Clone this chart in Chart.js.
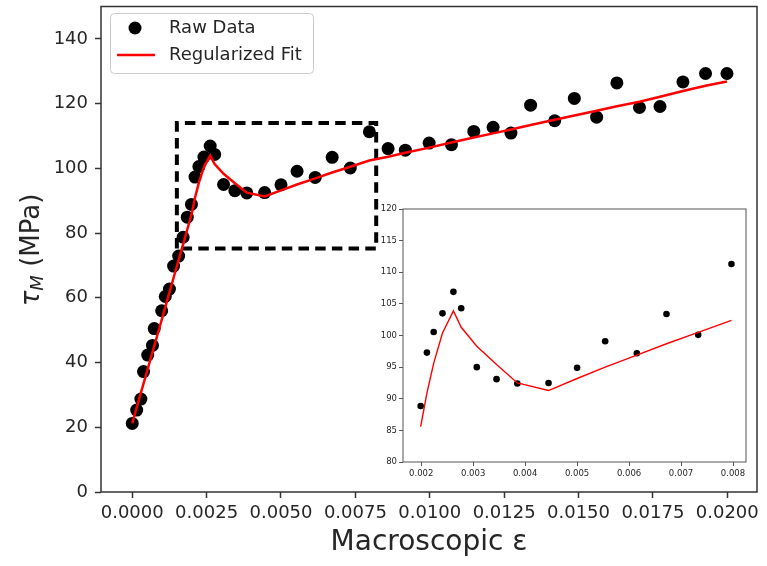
<!DOCTYPE html>
<html>
<head>
<meta charset="utf-8">
<title>Regularized fit</title>
<script src="https://cdn.jsdelivr.net/npm/chart.js@4.4.1/dist/chart.umd.min.js"></script>
<style>
  html, body { margin: 0; padding: 0; background: #fff; }
  #wrap { position: relative; width: 767px; height: 566px; overflow: hidden; }
  #main { position: absolute; left: 0; top: 0; }
  #inset { position: absolute; left: 360px; top: 195px; }
</style>
</head>
<body>
<div id="wrap">
  <canvas id="main" width="767" height="566"></canvas>
  <canvas id="inset" width="400" height="300"></canvas>
</div>
<script>
// Macroscopic strain of each sample.
const strain = [
  0, 0.00015, 0.00029, 0.00038, 0.00052, 0.00068, 0.00074, 0.00099, 0.00111, 0.00125, 0.00139, 0.00156, 0.00171, 0.00185,
  0.00199, 0.00211, 0.00224, 0.00241, 0.00262, 0.00277, 0.00307, 0.00345, 0.00385, 0.00445, 0.00500, 0.00554, 0.00615, 0.00672, 0.00733, 0.00797,
  0.00860, 0.00918, 0.00998, 0.01073, 0.01148, 0.01213, 0.01273, 0.01339, 0.01420, 0.01486, 0.01561, 0.01629, 0.01705, 0.01774, 0.01851, 0.01927, 0.01999
];
// Measured stress (MPa).
const stressRaw = [
  21.2, 25.3, 28.7, 37.2, 42.3, 45.3, 50.5, 56.0, 60.4, 62.7, 69.8, 72.9, 78.7, 84.9,
  88.85, 97.3, 100.55, 103.5, 106.9, 104.3, 95.0, 93.1, 92.4, 92.5, 94.9, 99.1, 97.2, 103.4, 100.1, 111.3,
  106.1, 105.6, 107.8, 107.3, 111.4, 112.7, 110.9, 119.5, 114.7, 121.6, 115.8, 126.4, 118.8, 119.1, 126.7, 129.3, 129.3
];
// Regularized fit evaluated at the same strains (MPa).
const stressFit = [
  21.2, 26.1, 30.6, 33.5, 38.0, 43.2, 45.1, 53.2, 57.1, 61.7, 66.2, 71.7, 76.5, 81.1,
  85.6, 90.9, 95.6, 100.4, 103.9, 101.3, 98.3, 95.4, 92.5, 91.3, 93.2, 95.0, 96.9, 98.7, 100.5, 102.4,
  103.6, 104.8, 106.4, 108.0, 109.5, 110.8, 112.0, 113.4, 115.0, 116.3, 117.8, 119.2, 120.6, 122.1, 123.9, 125.5, 126.8
];

// Zoom window shown in the inset (strain / stress corners of the dashed box).
const boxStrain = [0.0015, 0.0015, 0.0082, 0.0082, 0.0015];
const boxStress = [75.2, 114.0, 114.0, 75.2, 75.2];
// Strain range of the samples repeated in the inset.
const insetRange = [0.0019, 0.0080];

// Tick values.
const mainXTicks = [0, 0.0025, 0.005, 0.0075, 0.01, 0.0125, 0.015, 0.0175, 0.02];
const mainYTicks = [0, 20, 40, 60, 80, 100, 120, 140];
const insetXTicks = [0.002, 0.003, 0.004, 0.005, 0.006, 0.007, 0.008];
const insetYTicks = [80, 85, 90, 95, 100, 105, 110, 115, 120];

const FONT = '"DejaVu Sans", sans-serif';
const TEXT = '#262626';
const SPINE = '#333333';

const rawPoints = strain.map((x, i) => ({x, y: stressRaw[i]}));
const fitPoints = strain.map((x, i) => ({x, y: stressFit[i]}));
const boxPoints = boxStrain.map((x, i) => ({x, y: boxStress[i]}));
const inRange = p => p.x >= insetRange[0] && p.x <= insetRange[1];

// White plot area and the four spines round it.
const framePlugin = {
  id: 'frame',
  beforeDatasetsDraw(chart) {
    const {ctx, chartArea: a} = chart;
    ctx.save();
    ctx.fillStyle = '#fff';
    ctx.fillRect(a.left, a.top, a.right - a.left, a.bottom - a.top);
    ctx.restore();
  },
  afterDraw(chart, args, opts) {
    const {ctx, chartArea: a} = chart;
    ctx.save();
    ctx.strokeStyle = opts.color;
    ctx.lineWidth = opts.width;
    ctx.strokeRect(a.left, a.top, a.right - a.left, a.bottom - a.top);
    ctx.restore();
  }
};

// Y axis title with the subscript: tau_M (MPa).
const yTitlePlugin = {
  id: 'yTitle',
  afterDraw(chart) {
    const ctx = chart.ctx;
    const parts = [
      {text: 'τ', font: `italic 26px ${FONT}`, dy: 0},
      {text: 'M', font: `italic 18px ${FONT}`, dy: 4},
      {text: ' (MPa)', font: `26px ${FONT}`, dy: 0}
    ];
    ctx.save();
    let total = 0;
    parts.forEach(p => {
      ctx.font = p.font;
      p.w = ctx.measureText(p.text).width;
      total += p.w;
    });
    ctx.translate(38.5, 250);
    ctx.rotate(-Math.PI / 2);
    ctx.fillStyle = TEXT;
    ctx.textBaseline = 'alphabetic';
    let x = -total / 2;
    parts.forEach(p => {
      ctx.font = p.font;
      ctx.fillText(p.text, x, p.dy);
      x += p.w;
    });
    ctx.restore();
  }
};

// Legend box in the upper left corner.
const legendPlugin = {
  id: 'legendBox',
  afterDraw(chart) {
    const ctx = chart.ctx;
    ctx.save();
    ctx.beginPath();
    ctx.roundRect(110.5, 13.5, 203, 60, 4);
    ctx.fillStyle = 'rgba(255,255,255,0.8)';
    ctx.fill();
    ctx.strokeStyle = '#cccccc';
    ctx.lineWidth = 1;
    ctx.stroke();

    ctx.fillStyle = '#000';
    ctx.beginPath();
    ctx.arc(135, 28, 6.5, 0, Math.PI * 2);
    ctx.fill();

    ctx.strokeStyle = '#ff0000';
    ctx.lineWidth = 2.5;
    ctx.beginPath();
    ctx.moveTo(117, 55);
    ctx.lineTo(155, 55);
    ctx.stroke();

    ctx.font = `18px ${FONT}`;
    ctx.fillStyle = TEXT;
    ctx.textBaseline = 'middle';
    ctx.fillText('Raw Data', 169, 28);
    ctx.fillText('Regularized Fit', 169, 55);
    ctx.restore();
  }
};

function fixedTicks(values) {
  return scale => { scale.ticks = values.map(v => ({value: v})); };
}

function fitSize(size, horizontal) {
  return scale => {
    if (horizontal) scale.height = size; else scale.width = size;
    scale.paddingLeft = 0;
    scale.paddingRight = 0;
    scale.paddingTop = 0;
    scale.paddingBottom = 0;
  };
}

new Chart(document.getElementById('main'), {
  type: 'scatter',
  data: {
    datasets: [
      {
        label: 'Regularized Fit', data: fitPoints, showLine: true,
        borderColor: '#ff0000', borderWidth: 2.5, pointRadius: 0, order: 0
      },
      {
        label: 'Raw Data', data: rawPoints, backgroundColor: '#000', borderWidth: 0,
        pointRadius: 6.5, pointHoverRadius: 6.5, order: 1
      },
      {
        label: 'Zoom window', data: boxPoints, showLine: true, borderColor: '#000',
        borderWidth: 4, borderDash: [10.5, 6.2], pointRadius: 0, order: 2
      }
    ]
  },
  options: {
    responsive: false,
    animation: false,
    events: [],
    layout: {padding: {left: 0, right: 10, top: 3, bottom: 0}},
    plugins: {
      legend: {display: false},
      tooltip: {enabled: false},
      frame: {color: SPINE, width: 1.5}
    },
    scales: {
      x: {
        type: 'linear', min: -0.00105, max: 0.021,
        afterBuildTicks: fixedTicks(mainXTicks),
        afterFit: fitSize(74, true),
        border: {display: false},
        grid: {drawOnChartArea: false, tickLength: 6, tickColor: SPINE, tickWidth: 1.5},
        ticks: {
          font: {family: FONT, size: 18}, color: TEXT, padding: 5, maxRotation: 0,
          callback: v => v.toFixed(4)
        },
        title: {
          display: true, text: 'Macroscopic ε', color: TEXT,
          font: {family: FONT, size: 28}, padding: {top: 0, bottom: 6}
        }
      },
      y: {
        type: 'linear', min: 0, max: 150,
        afterBuildTicks: fixedTicks(mainYTicks),
        afterFit: fitSize(101, false),
        border: {display: false},
        grid: {drawOnChartArea: false, tickLength: 6, tickColor: SPINE, tickWidth: 1.5},
        ticks: {font: {family: FONT, size: 18}, color: TEXT, padding: 7}
      }
    }
  },
  plugins: [framePlugin, yTitlePlugin, legendPlugin]
});

new Chart(document.getElementById('inset'), {
  type: 'scatter',
  data: {
    datasets: [
      {
        label: 'Regularized Fit', data: fitPoints.filter(inRange), showLine: true,
        borderColor: '#ff0000', borderWidth: 1.4, pointRadius: 0, order: 0
      },
      {
        label: 'Raw Data', data: rawPoints.filter(inRange), backgroundColor: '#000', borderWidth: 0,
        pointRadius: 3.3, pointHoverRadius: 3.3, order: 1
      }
    ]
  },
  options: {
    responsive: false,
    animation: false,
    events: [],
    layout: {padding: {left: 0, right: 14, top: 14, bottom: 0}},
    plugins: {
      legend: {display: false},
      tooltip: {enabled: false},
      frame: {color: '#555555', width: 1}
    },
    scales: {
      x: {
        type: 'linear', min: 0.00165, max: 0.00825,
        afterBuildTicks: fixedTicks(insetXTicks),
        afterFit: fitSize(33, true),
        border: {display: false},
        grid: {drawOnChartArea: false, tickLength: 4, tickColor: '#555555', tickWidth: 1},
        ticks: {
          font: {family: FONT, size: 8.5}, color: TEXT, padding: 3, maxRotation: 0,
          callback: v => v.toFixed(3)
        }
      },
      y: {
        type: 'linear', min: 80, max: 120,
        afterBuildTicks: fixedTicks(insetYTicks),
        afterFit: fitSize(43, false),
        border: {display: false},
        grid: {drawOnChartArea: false, tickLength: 4, tickColor: '#555555', tickWidth: 1},
        ticks: {font: {family: FONT, size: 8.5}, color: TEXT, padding: 2}
      }
    }
  },
  plugins: [framePlugin]
});
</script>
</body>
</html>
